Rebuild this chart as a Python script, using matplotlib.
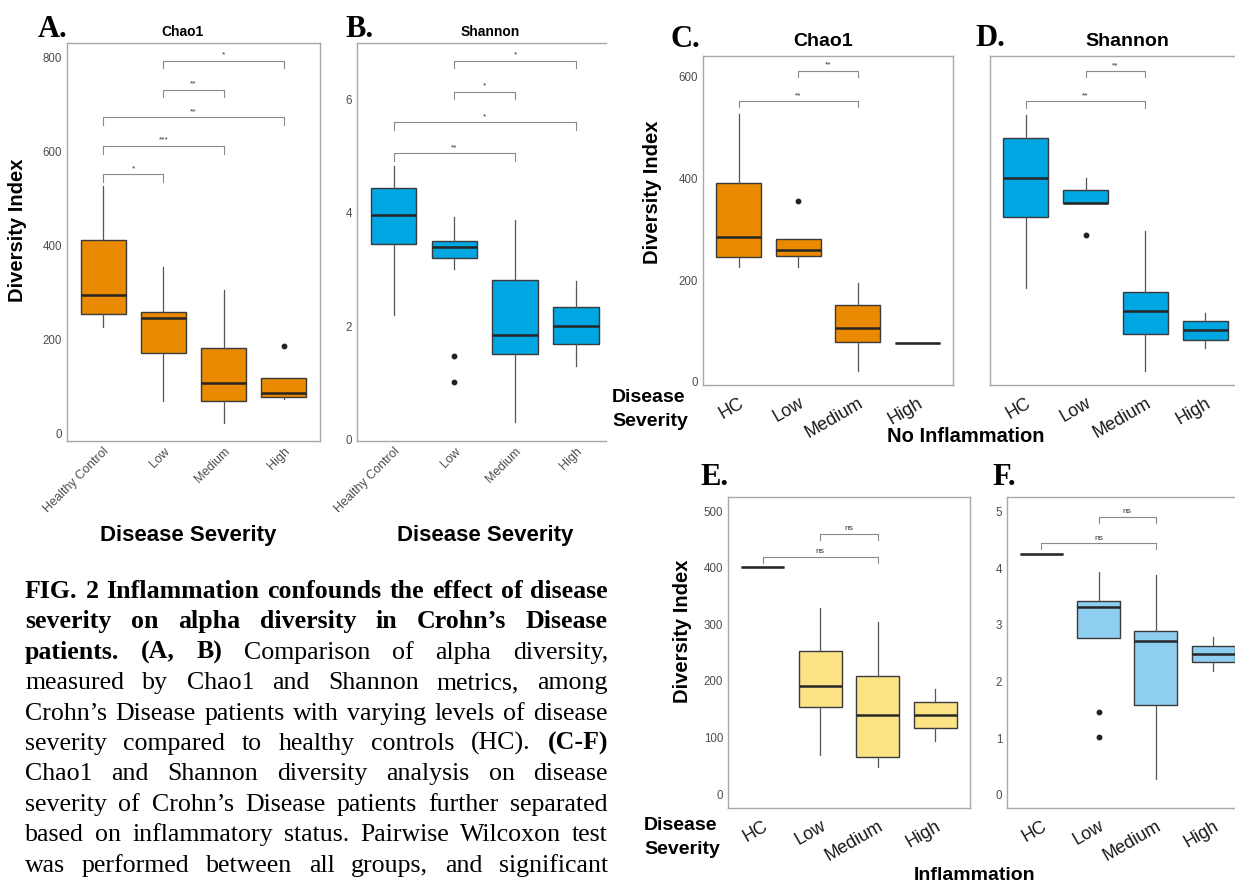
import matplotlib.pyplot as plt

W, H = 1235, 886

severity_full = ["Healthy Control", "Low", "Medium", "High"]
severity_short = ["HC", "Low", "Medium", "High"]

# A. Chao1, all samples
a_whislo = [227, 70, 23, 73]
a_q1 = [255, 172, 68, 78]
a_med = [294, 246, 108, 87]
a_q3 = [411, 259, 182, 117]
a_whishi = [527, 354, 305, 117]
a_fliers = [[], [], [], [186]]
a_tests = [(1, 2, 551, "*"), (1, 3, 611, "***"), (1, 4, 672, "**"),
           (2, 3, 731, "**"), (2, 4, 792, "*")]

# B. Shannon, all samples
b_whislo = [2.19, 3.00, 0.30, 1.29]
b_q1 = [3.45, 3.21, 1.50, 1.68]
b_med = [3.97, 3.39, 1.85, 2.01]
b_q3 = [4.44, 3.51, 2.81, 2.34]
b_whishi = [4.83, 3.92, 3.87, 2.79]
b_fliers = [[], [1.48, 1.02], [], []]
b_tests = [(1, 3, 5.05, "**"), (1, 4, 5.60, "*"), (2, 3, 6.14, "*"), (2, 4, 6.69, "*")]

# C. Chao1, no inflammation
c_whislo = [226, 226, 22, 76]
c_q1 = [246, 247, 78, 76]
c_med = [284, 260, 106, 76]
c_q3 = [391, 280, 151, 76]
c_whishi = [526, 280, 195, 76]
c_fliers = [[], [355], [], []]
c_tests = [(1, 3, 552, "**"), (2, 3, 612, "**")]

# D. Shannon, no inflammation
d_whislo = [2.19, 3.48, 0.94, 1.28]
d_q1 = [3.28, 3.48, 1.50, 1.41]
d_med = [3.87, 3.49, 1.84, 1.55]
d_q3 = [4.47, 3.69, 2.14, 1.69]
d_whishi = [4.83, 3.86, 3.06, 1.82]
d_fliers = [[], [3.00], [], []]
d_tests = [(1, 3, 5.03, "**"), (2, 3, 5.49, "**")]

# E. Chao1, inflammation
e_whislo = [401, 69, 48, 93]
e_q1 = [401, 153, 66, 116]
e_med = [401, 191, 140, 139]
e_q3 = [401, 253, 209, 162]
e_whishi = [401, 329, 304, 185]
e_fliers = [[], [], [], []]
e_tests = [(1, 3, 419, "ns"), (2, 3, 460, "ns")]

# F. Shannon, inflammation
f_whislo = [4.25, 2.77, 0.28, 2.19]
f_q1 = [4.25, 2.77, 1.59, 2.35]
f_med = [4.25, 3.32, 2.72, 2.49]
f_q3 = [4.25, 3.42, 2.90, 2.63]
f_whishi = [4.25, 3.93, 3.88, 2.78]
f_fliers = [[], [1.47, 1.02], [], []]
f_tests = [(1, 3, 4.44, "ns"), (2, 3, 4.91, "ns")]

caption = [
    [("FIG. 2 Inflammation confounds the effect of disease", True)],
    [("severity on alpha diversity in Crohn’s Disease", True)],
    [("patients. (A, B)", True), ("Comparison of alpha diversity,", False)],
    [("measured by Chao1 and Shannon metrics, among", False)],
    [("Crohn’s Disease patients with varying levels of disease", False)],
    [("severity compared to healthy controls (HC).", False), ("(C-F)", True)],
    [("Chao1 and Shannon diversity analysis on disease", False)],
    [("severity of Crohn’s Disease patients further separated", False)],
    [("based on inflammatory status. Pairwise Wilcoxon test", False)],
    [("was performed between all groups, and significant", False)],
]

SANS = "Liberation Sans"
SERIF = "Liberation Serif"

fig = plt.figure(figsize=(W / 100, H / 100), dpi=100)


def fx(x):
    return x / W


def fy(y):
    return 1 - y / H


def panel(rect, whislo, q1, med, q3, whishi, fliers, tests, color, ylim, xmax,
          yticks, labels, rot, lsize, lpad, cut_right=False):
    x0, y0, x1, y1 = rect
    ax = fig.add_axes([fx(x0), fy(y1), (x1 - x0) / W, (y1 - y0) / H])
    stats = [dict(whislo=a, q1=b, med=c, q3=d, whishi=e, fliers=f)
             for a, b, c, d, e, f in zip(whislo, q1, med, q3, whishi, fliers)]
    ax.bxp(stats, positions=[1, 2, 3, 4], widths=0.75, patch_artist=True,
           showcaps=False,
           boxprops=dict(facecolor=color, edgecolor="#3a3a3a", linewidth=1.0),
           medianprops=dict(color="#262626", linewidth=1.8),
           whiskerprops=dict(color="#555555", linewidth=0.9),
           flierprops=dict(marker="o", markersize=3.2, markerfacecolor="#222222",
                           markeredgecolor="#222222"))
    tip = 0.019 * (ylim[1] - ylim[0])
    for i, j, y, txt in tests:
        ax.plot([i, i, j, j], [y - tip, y, y, y - tip], color="#8a8a8a", lw=0.8)
        ax.text((i + j) / 2, y + tip * 0.3, txt, ha="center", va="bottom",
                fontsize=6, family=SANS, color="#333333")
    ax.set_xlim(0.4, xmax)
    ax.set_ylim(*ylim)
    ax.set_yticks(yticks)
    ax.set_yticklabels([f"{t:g}" for t in yticks], family=SANS, fontsize=8.3,
                       color="#4d4d4d")
    ax.set_xticks([1, 2, 3, 4])
    ax.set_xticklabels(labels, rotation=rot, ha="right", va="top",
                       rotation_mode="anchor", family=SANS, fontsize=lsize,
                       color="#4d4d4d" if rot == 45 else "#1a1a1a")
    ax.tick_params(length=0)
    ax.tick_params(axis="y", pad=3.5)
    ax.tick_params(axis="x", pad=lpad)
    for s in ax.spines.values():
        s.set_color("#a8a8a8")
        s.set_linewidth(1.0)
    if cut_right:
        ax.spines["right"].set_visible(False)
    return ax


panel((67, 43, 320, 441), a_whislo, a_q1, a_med, a_q3, a_whishi, a_fliers, a_tests,
      "#E98A00", (-16, 830), 4.6, [0, 200, 400, 600, 800], severity_full, 45, 9, 3)
panel((357, 43, 606, 441), b_whislo, b_q1, b_med, b_q3, b_whishi, b_fliers, b_tests,
      "#00A6E2", (-0.03, 7.0), 4.49, [0, 2, 4, 6], severity_full, 45, 9, 3,
      cut_right=True)
panel((703, 56, 953, 385), c_whislo, c_q1, c_med, c_q3, c_whishi, c_fliers, c_tests,
      "#E98A00", (-6.5, 641), 4.6, [0, 200, 400, 600], severity_short, 30, 13, 7)
panel((990, 56, 1235, 385), d_whislo, d_q1, d_med, d_q3, d_whishi, d_fliers, d_tests,
      "#00A6E2", (0.72, 5.72), 4.5, [], severity_short, 30, 13, 7, cut_right=True)
panel((728, 497, 970, 808), e_whislo, e_q1, e_med, e_q3, e_whishi, e_fliers, e_tests,
      "#FCE386", (-24.7, 525), 4.6, [0, 100, 200, 300, 400, 500], severity_short,
      30, 13, 7)
panel((1007, 497, 1235, 808), f_whislo, f_q1, f_med, f_q3, f_whishi, f_fliers, f_tests,
      "#8ECEF0", (-0.235, 5.26), 4.38, [0, 1, 2, 3, 4, 5], severity_short, 30, 13, 7,
      cut_right=True)

# panel titles
for x, y, t, s in [(183, 32, "Chao1", 10), (490, 32, "Shannon", 10),
                   (823, 42, "Chao1", 14), (1127, 42, "Shannon", 14)]:
    fig.text(fx(x), fy(y), t, ha="center", va="center", fontsize=s,
             fontweight="bold", family=SANS)

# panel letters
for x, y, t in [(38, 37, "A."), (345, 37, "B."), (671, 47, "C."),
                (975, 46, "D."), (700, 485, "E."), (992, 485, "F.")]:
    fig.text(fx(x), fy(y), t, ha="left", va="baseline", fontsize=22,
             fontweight="bold", family=SERIF)

# axis titles
for x, y in [(18, 230), (653, 192), (683, 631)]:
    fig.text(fx(x), fy(y), "Diversity Index", rotation=90, ha="center", va="center",
             fontsize=14.5, fontweight="bold", family=SANS)
for x in [188, 485]:
    fig.text(fx(x), fy(536), "Disease Severity", ha="center", va="center",
             fontsize=16, fontweight="bold", family=SANS)
for x, y in [(612, 398), (644, 826)]:
    fig.text(fx(x), fy(y), "Disease", ha="left", va="center", fontsize=14,
             fontweight="bold", family=SANS)
    fig.text(fx(x), fy(y + 24), "Severity", ha="left", va="center", fontsize=14,
             fontweight="bold", family=SANS)
fig.text(fx(966), fy(437), "No Inflammation", ha="center", va="center",
         fontsize=14.5, fontweight="bold", family=SANS)
fig.text(fx(975), fy(876), "Inflammation", ha="center", va="center",
         fontsize=14, fontweight="bold", family=SANS)

# justified caption
left, right = 25, 608
renderer = fig.canvas.get_renderer()
for k, line in enumerate(caption):
    base = 598 + 30.4 * k
    items = []
    for seg, bold in line:
        for w in seg.split():
            items.append(fig.text(0, fy(base), w, ha="left", va="baseline",
                                  fontsize=18.6, family=SERIF,
                                  fontweight="bold" if bold else "normal"))
    widths = [t.get_window_extent(renderer).width for t in items]
    gap = max((right - left - sum(widths)) / (len(items) - 1), 3)
    x = left
    for t, wd in zip(items, widths):
        t.set_x(fx(x))
        x += wd + gap

fig.savefig("out.png", dpi=100)
